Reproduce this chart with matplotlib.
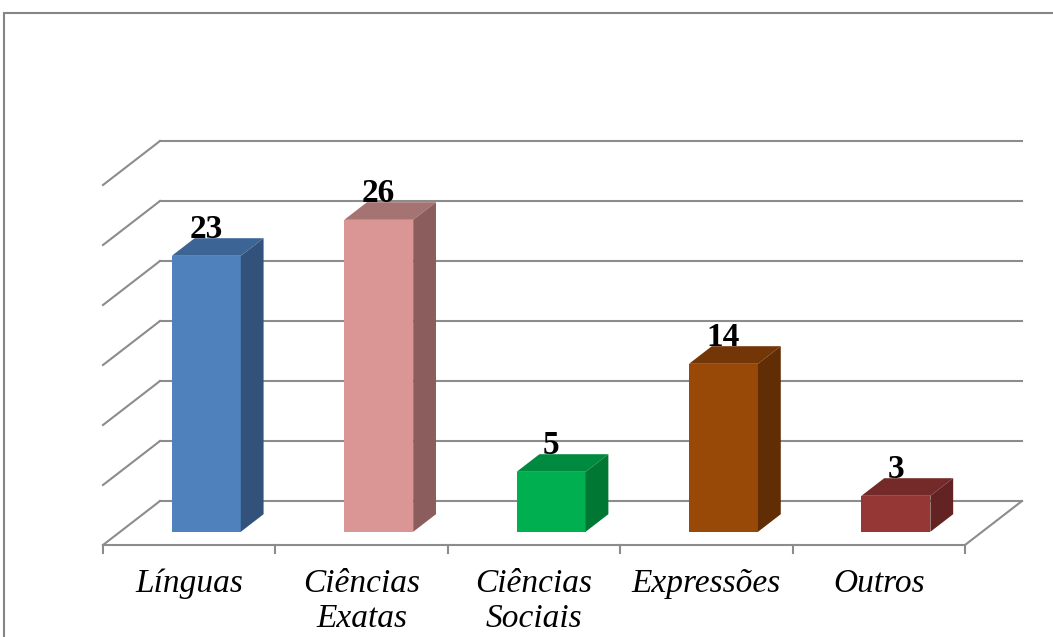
import matplotlib.pyplot as plt
from matplotlib.patches import Polygon, Rectangle

categories = ['Línguas', 'Ciências\nExatas', 'Ciências\nSociais', 'Expressões', 'Outros']
values = [23, 26, 5, 14, 3]
front_colors = ['#4F81BD', '#D99694', '#00B050', '#984807', '#953735']
top_colors = ['#3C6595', '#A57372', '#008A3F', '#733606', '#732A28']
side_colors = ['#33527B', '#8B5D5C', '#007733', '#602D04', '#622322']
grid_values = [0, 5, 10, 15, 20, 25, 30]

# oblique projection: depth 1 shifts by (ddx categories, ddy value units)
ddx, ddy = 57 / 172.4, 44 / 12.0
d_front, d_back = 0.3, 0.7
half_w = 0.2
grid_col = '#8C8C8C'

fig = plt.figure(figsize=(10.53, 6.37), dpi=100)
ax = fig.add_axes([0, 0, 1, 1])
ax.set_xlim(-103 / 172.4, (1053 - 103) / 172.4)
ax.set_ylim((545 - 637) / 12.0, 545 / 12.0)
ax.axis('off')

n = len(categories)

# back wall and left wall gridlines
for g in grid_values:
    ax.plot([ddx, n + ddx], [g + ddy, g + ddy], color=grid_col, lw=1.5, zorder=1)
    ax.plot([0, ddx], [g, g + ddy], color=grid_col, lw=1.5, zorder=1)

# floor edges and category ticks
ax.plot([0, n, n + ddx], [0, 0, ddy], color=grid_col, lw=1.5, zorder=1)
for i in range(n + 1):
    ax.plot([i, i], [0, -0.7], color=grid_col, lw=1.5, zorder=1)

for i, (v, fc, tc, sc) in enumerate(zip(values, front_colors, top_colors, side_colors)):
    x0 = i + 0.5 - half_w + d_front * ddx
    x1 = i + 0.5 + half_w + d_front * ddx
    y0 = d_front * ddy
    y1 = v + d_front * ddy
    ox = (d_back - d_front) * ddx
    oy = (d_back - d_front) * ddy
    ax.add_patch(Polygon([(x0, y0), (x1, y0), (x1, y1), (x0, y1)],
                         closed=True, facecolor=fc, edgecolor='none', zorder=3))
    ax.add_patch(Polygon([(x0, y1), (x1, y1), (x1 + ox, y1 + oy), (x0 + ox, y1 + oy)],
                         closed=True, facecolor=tc, edgecolor='none', zorder=3))
    ax.add_patch(Polygon([(x1, y0), (x1 + ox, y0 + oy), (x1 + ox, y1 + oy), (x1, y1)],
                         closed=True, facecolor=sc, edgecolor='none', zorder=3))
    ax.text((x0 + x1) / 2, y1 + oy + 0.05, str(v), ha='center', va='baseline',
            fontsize=24, fontweight='bold', family='Liberation Serif', zorder=4)
    # category names, one line at a time so the first baseline stays fixed
    for k, line in enumerate(categories[i].split('\n')):
        ax.text(i + 0.5, -3.92 - k * 35 / 12.0, line, ha='center', va='baseline',
                fontsize=24, style='italic', family='Liberation Serif')

# outer frame
fig.patches.append(Rectangle((4 / 1053, -0.1), 1.2, 1 - 13 / 637 + 0.1,
                             transform=fig.transFigure, fill=False,
                             edgecolor='#868686', lw=1.5))

fig.savefig('out.png', dpi=100)
